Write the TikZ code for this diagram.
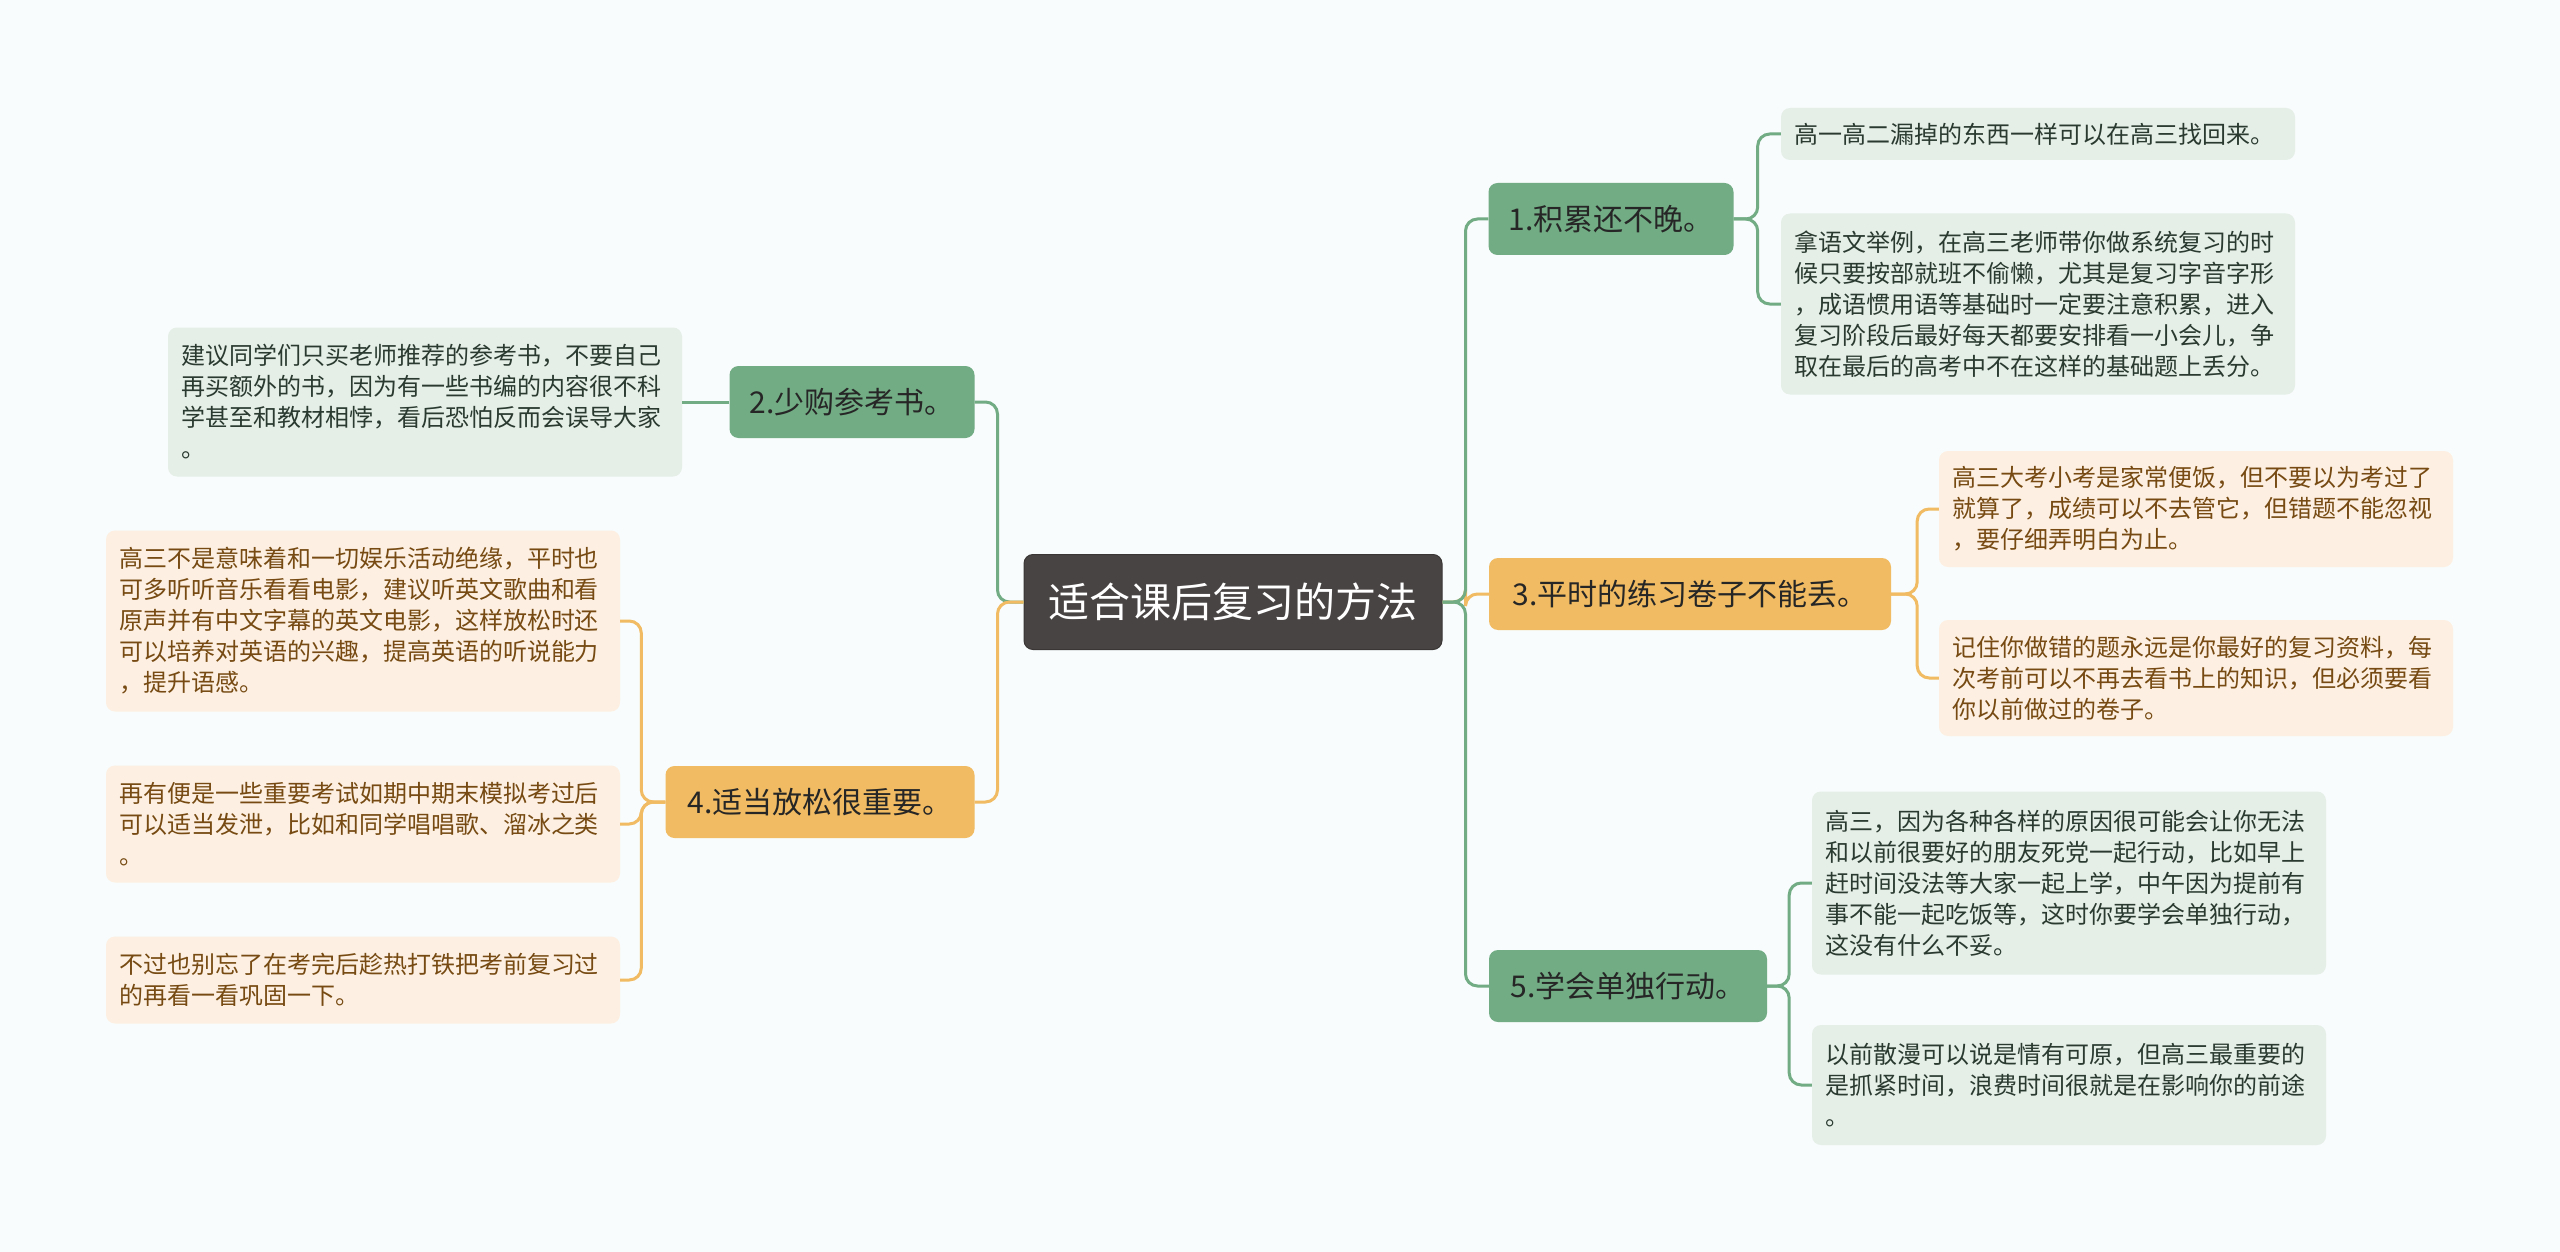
\documentclass[tikz,border=0pt]{standalone}
\usepackage{fontspec}
\setmainfont{Noto Sans CJK SC}
\usetikzlibrary{positioning}
\definecolor{paper}{RGB}{248,252,252}
\definecolor{rootfill}{RGB}{73,68,68}
\definecolor{grn}{RGB}{114,172,132}
\definecolor{grnleaf}{RGB}{229,239,232}
\definecolor{grntext}{RGB}{42,58,48}
\definecolor{org}{RGB}{240,187,98}
\definecolor{orgleaf}{RGB}{253,240,226}
\definecolor{orgtext}{RGB}{118,74,18}

\begin{document}
\begin{tikzpicture}[x=1pt,y=-1pt,
  topic/.style={fill=rootfill,draw=rootfill!80!black,line width=1pt,rounded corners=9pt,
    text=white,font=\fontsize{41}{48}\selectfont,minimum width=418pt,minimum height=95pt},
  gbranch/.style={fill=grn,rounded corners=9pt,text=black!85,
    font=\fontsize{30}{36}\selectfont,minimum height=72pt,inner xsep=14pt},
  obranch/.style={gbranch,fill=org},
  gleaf/.style={fill=grnleaf,rounded corners=9pt,text=grntext,align=left,
    font=\fontsize{24}{31}\selectfont,text width=488pt,inner xsep=13pt},
  oleaf/.style={gleaf,fill=orgleaf,text=orgtext},
  glink/.style={draw=grn,line width=3pt,rounded corners=12pt},
  olink/.style={draw=org,line width=3pt,rounded corners=12pt}]
  \useasboundingbox[fill=paper] (0,0) rectangle (2560,1252);

  % centre
  \node[topic] (root) at (1233,602) {适合课后复习的方法};

  % right side
  \node[gbranch,minimum width=245pt] (acc) at (1611,219) {1.积累还不晚。};
  \node[obranch,minimum width=402pt] (drill) at (1690,594) {3.平时的练习卷子不能丢。};
  \node[gbranch,minimum width=278pt] (alone) at (1628,986) {5.学会单独行动。};

  \node[gleaf,minimum height=52pt] (acc1) at (2038,134) {高一高二漏掉的东西一样可以在高三找回来。};
  \node[gleaf,minimum height=181pt] (acc2) at (2038,304) {拿语文举例，在高三老师带你做系统复习的时\\候只要按部就班不偷懒，尤其是复习字音字形\\，成语惯用语等基础时一定要注意积累，进入\\复习阶段后最好每天都要安排看一小会儿，争\\取在最后的高考中不在这样的基础题上丢分。};
  \node[oleaf,minimum height=116pt] (drill1) at (2196,509) {高三大考小考是家常便饭，但不要以为考过了\\就算了，成绩可以不去管它，但错题不能忽视\\，要仔细弄明白为止。};
  \node[oleaf,minimum height=116pt] (drill2) at (2196,678) {记住你做错的题永远是你最好的复习资料，每\\次考前可以不再去看书上的知识，但必须要看\\你以前做过的卷子。};
  \node[gleaf,minimum height=183pt] (alone1) at (2069,883) {高三，因为各种各样的原因很可能会让你无法\\和以前很要好的朋友死党一起行动，比如早上\\赶时间没法等大家一起上学，中午因为提前有\\事不能一起吃饭等，这时你要学会单独行动，\\这没有什么不妥。};
  \node[gleaf,minimum height=120pt] (alone2) at (2069,1085) {以前散漫可以说是情有可原，但高三最重要的\\是抓紧时间，浪费时间很就是在影响你的前途\\。};

  % left side
  \node[gbranch,minimum width=245pt] (books) at (852,402) {2.少购参考书。};
  \node[obranch,minimum width=309pt] (relax) at (820,802) {4.适当放松很重要。};

  \node[gleaf,minimum height=149pt] (books1) at (425,402) {建议同学们只买老师推荐的参考书，不要自己\\再买额外的书，因为有一些书编的内容很不科\\学甚至和教材相悖，看后恐怕反而会误导大家\\。};
  \node[oleaf,minimum height=181pt] (relax1) at (363,621) {高三不是意味着和一切娱乐活动绝缘，平时也\\可多听听音乐看看电影，建议听英文歌曲和看\\原声并有中文字幕的英文电影，这样放松时还\\可以培养对英语的兴趣，提高英语的听说能力\\，提升语感。};
  \node[oleaf,minimum height=117pt] (relax2) at (363,824) {再有便是一些重要考试如期中期末模拟考过后\\可以适当发泄，比如和同学唱唱歌、溜冰之类\\。};
  \node[oleaf,minimum height=87pt] (relax3) at (363,980) {不过也别忘了在考完后趁热打铁把考前复习过\\的再看一看巩固一下。};

  % links from the centre
  \path[olink] (root.east) -- ++(23,0) |- (drill.west);
  \path[glink] (root.east) -- ++(23,0) |- (acc.west);
  \path[glink] (root.east) -- ++(23,0) |- (alone.west);
  \path[glink] (root.west) -- ++(-26,0) |- (books.east);
  \path[olink] (root.west) -- ++(-26,0) |- (relax.east);

  % links to the leaves
  \path[glink] (acc.east) -- ++(24,0) |- (acc1.west);
  \path[glink] (acc.east) -- ++(24,0) |- (acc2.west);
  \path[olink] (drill.east) -- ++(26,0) |- (drill1.west);
  \path[olink] (drill.east) -- ++(26,0) |- (drill2.west);
  \path[glink] (alone.east) -- ++(22,0) |- (alone1.west);
  \path[glink] (alone.east) -- ++(22,0) |- (alone2.west);
  \path[glink] (books.west) -- (books1.east);
  \path[olink] (relax.west) -- ++(-24,0) |- (relax1.east);
  \path[olink] (relax.west) -- ++(-24,0) |- (relax2.east);
  \path[olink] (relax.west) -- ++(-24,0) |- (relax3.east);
\end{tikzpicture}
\end{document}
